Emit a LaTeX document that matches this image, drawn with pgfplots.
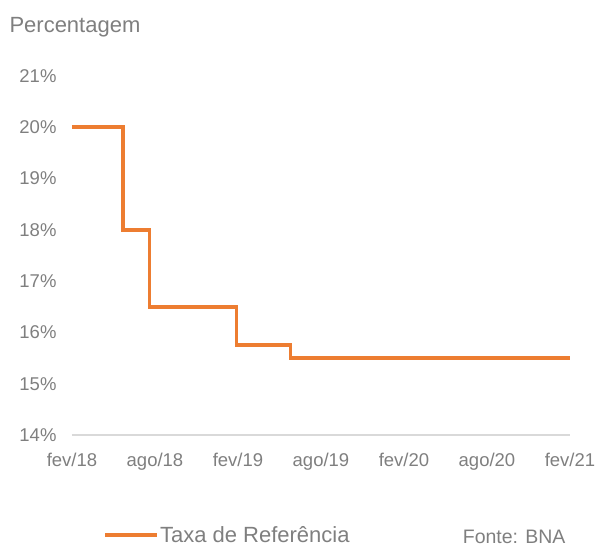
\documentclass[border=0pt]{standalone}
\usepackage{pgfplots}
\pgfplotsset{compat=1.18}
\usepackage{fontspec}
\setmainfont{Liberation Sans}
\definecolor{lineor}{HTML}{ED7D31}
\definecolor{txtgray}{HTML}{7F7F7F}
\definecolor{axgray}{HTML}{D9D9D9}
\begin{document}
\begin{tikzpicture}[x=1pt,y=1pt]
\useasboundingbox (0,0) rectangle (598,548);
\begin{axis}[
  at={(72pt,113pt)}, anchor=south west,
  scale only axis, width=498pt, height=359pt,
  xmin=0, xmax=36, ymin=14, ymax=21,
  enlargelimits=false,
  axis x line=bottom, axis y line=left,
  x axis line style={draw=axgray, line width=1.2pt, -},
  y axis line style={draw=none},
  clip=false,
  xtick={0,6,...,36},
  xticklabels={fev/18,ago/18,fev/19,ago/19,fev/20,ago/20,fev/21},
  ytick={14,15,...,21},
  yticklabel={\pgfmathprintnumber{\tick}\%},
  /pgf/number format/assume math mode=true,
  tick style={draw=none},
  major tick length=0pt,
  ticklabel style={font=\fontsize{18.5}{21}\selectfont, text=txtgray},
  xticklabel style={yshift=-15pt},
  yticklabel style={xshift=-12pt},
  legend style={at={(0.062,-0.279)}, anchor=west, draw=none, fill=none,
    font=\fontsize{22}{26}\selectfont, text=txtgray, inner sep=0pt,
    nodes={inner sep=1pt}},
  legend image code/.code={\draw[line width=4pt, lineor] (0pt,0pt) -- (52pt,0pt);},
]
\addplot[const plot, lineor, line width=3.6pt, line join=miter] coordinates {
  (0,20) (3.7,18) (5.6,16.5) (11.9,15.75) (15.8,15.5) (36,15.5)
};
\addlegendentry{Taxa de Referência}
\end{axis}
\node[anchor=west, text=txtgray, font=\fontsize{22}{26}\selectfont] at (6,521) {Percentagem};
\node[anchor=east, text=txtgray, font=\fontsize{19.5}{23}\selectfont] at (569,11) {Fonte: BNA};
\end{tikzpicture}
\end{document}
